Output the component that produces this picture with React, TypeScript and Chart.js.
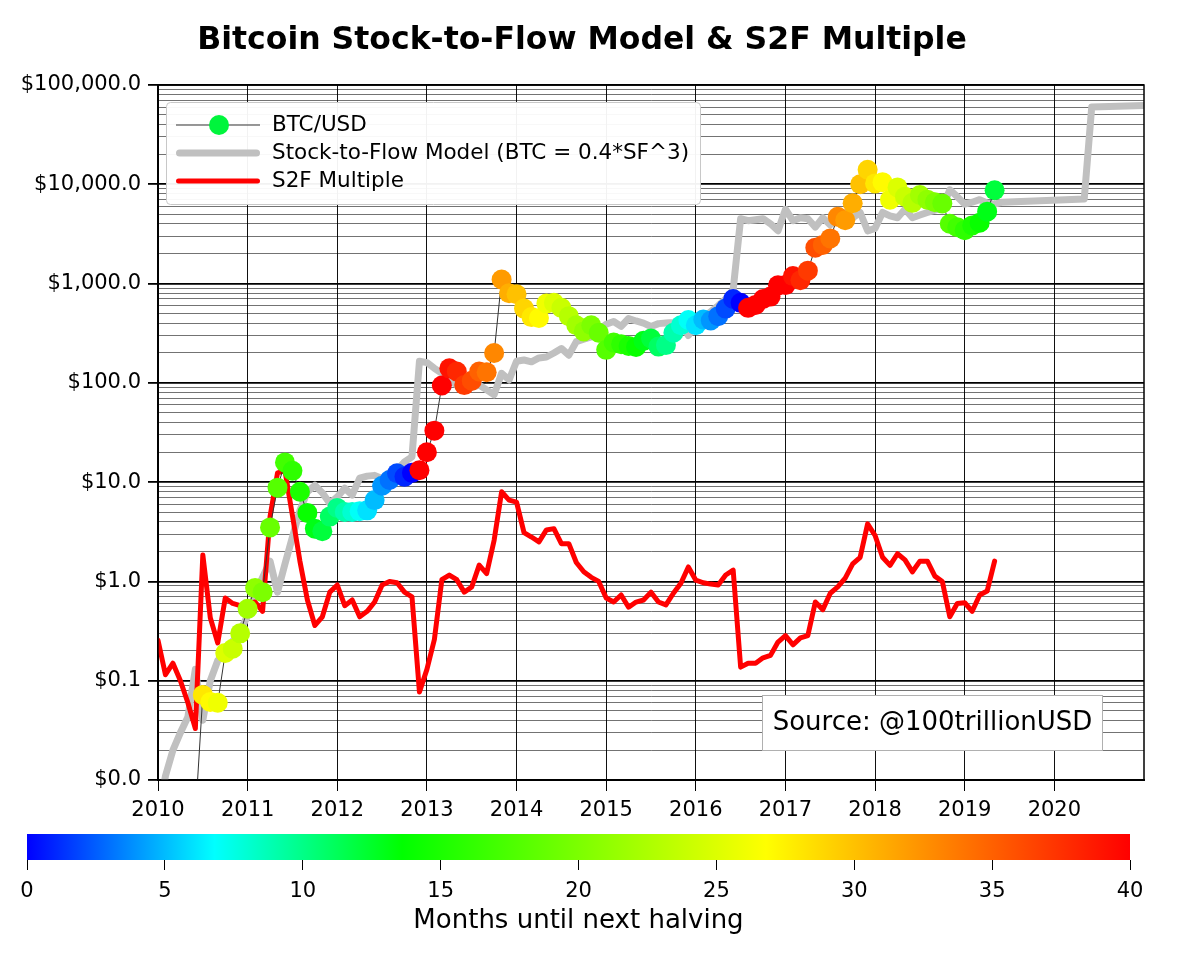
import React, { useEffect, useRef } from "react";
import { Chart, registerables } from "chart.js";

Chart.register(...registerables);

// ---------------- data ----------------
const START_YEAR = 2010; // month index 0 = Jan 2010, one value per month
const yearTicks = [2010, 2011, 2012, 2013, 2014, 2015, 2016, 2017, 2018, 2019, 2020];
const decadeTicks = [0.01, 0.1, 1, 10, 100, 1000, 10000, 100000];
const colorbarTicks = [0, 5, 10, 15, 20, 25, 30, 35, 40];
const halvingMonthIndex = [34, 78, 124]; // Nov 2012, Jul 2016, May 2020

const btcPrice = [
  0.001, 0.0013, 0.003, 0.003, 0.0026, 0.0043, 0.072, 0.061, 0.06, 0.19, 0.21, 0.3,
  0.53, 0.86, 0.78, 3.5, 8.8, 15.8, 13, 8, 4.9, 3.4, 3.2, 4.5,
  5.5, 5.0, 5.0, 5.1, 5.2, 6.6, 9.2, 10.5, 12.3, 11.3, 12.4, 13.2,
  20, 33, 94, 140, 130, 95, 105, 130, 128, 200, 1100, 800,
  780, 560, 460, 450, 630, 640, 570, 470, 380, 330, 380, 320,
  215, 255, 245, 235, 230, 265, 280, 232, 240, 320, 380, 430,
  380, 435, 425, 470, 560, 700, 640, 570, 610, 700, 740, 960,
  965, 1190, 1080, 1350, 2300, 2450, 2850, 4700, 4350, 6450, 10000, 14000,
  10200, 10500, 7000, 9300, 7500, 6500, 7800, 7000, 6600, 6400, 4000, 3700,
  3450, 3850, 4100, 5300, 8700,
];

const s2fModel = [
  0.004, 0.011, 0.02, 0.03, 0.043, 0.13, 0.04, 0.1, 0.16, 0.18, 0.25, 0.32,
  0.45, 0.75, 1.1, 1.6, 0.78, 1.5, 2.8, 5.2, 8, 9.3, 7.8, 6.1,
  7.1, 8.7, 7.4, 11, 11.5, 11.7, 10.9, 12.5, 13.2, 16, 18, 165,
  160, 140, 125, 106, 95, 88, 90, 95, 85, 76, 125, 107,
  165, 170, 163, 178, 182, 200, 222, 190, 260, 275, 290, 340,
  390, 415, 370, 445, 420, 400, 370, 395, 400, 405, 415, 300,
  385, 450, 520, 600, 700, 870, 4500, 4300, 4400, 4500, 4000, 3400,
  5600, 4300, 4600, 4500, 3700, 4600, 3900, 4500, 5200, 4600, 5200, 3400,
  3600, 5200, 4800, 4600, 5600, 4600, 4900, 5200, 5500, 5800, 8800, 7500,
  6300, 6600, 7000, 6500, 6300, 6600, null, null, null, null, null, null,
  null, null, null, null, 7100, 60000, null, null, null, null, null, null,
  62000,
];

const s2fMultiple = [
  0.255, 0.115, 0.15, 0.1, 0.06, 0.033, 1.85, 0.43, 0.24, 0.68, 0.6, 0.57,
  0.6, 0.62, 0.5, 4.5, 12.4, 13, 4.6, 1.6, 0.65, 0.36, 0.44, 0.78,
  0.92, 0.57, 0.65, 0.44, 0.5, 0.62, 0.92, 1.0, 0.97, 0.78, 0.7, 0.077,
  0.13, 0.26, 1.04, 1.16, 1.04, 0.78, 0.88, 1.46, 1.2, 2.6, 8.0, 6.6,
  6.3, 3.1, 2.8, 2.5, 3.3, 3.4, 2.4, 2.4, 1.55, 1.25, 1.1, 1.0,
  0.68, 0.62, 0.73, 0.55, 0.62, 0.65, 0.78, 0.62, 0.58, 0.76, 0.96, 1.4,
  1.03, 0.97, 0.94, 0.92, 1.16, 1.3, 0.137, 0.15, 0.15, 0.17, 0.18, 0.245,
  0.285, 0.23, 0.27, 0.285, 0.62, 0.52, 0.76, 0.88, 1.08, 1.5, 1.75, 3.8,
  2.9, 1.75, 1.45, 1.9, 1.65, 1.25, 1.6, 1.6, 1.13, 1.0, 0.44, 0.6,
  0.61, 0.5, 0.73, 0.8, 1.6,
];

// ---------------- styling helpers ----------------
const CMAP_STOPS: { m: number; c: [number, number, number] }[] = [
  { m: 0, c: [0, 0, 255] },
  { m: 6.8, c: [0, 255, 255] },
  { m: 13.6, c: [0, 255, 0] },
  { m: 26.8, c: [255, 255, 0] },
  { m: 40, c: [255, 0, 0] },
];

function cmap(m: number): string {
  const v = Math.max(0, Math.min(40, m));
  for (let i = 0; i < CMAP_STOPS.length - 1; i++) {
    const a = CMAP_STOPS[i];
    const b = CMAP_STOPS[i + 1];
    if (v >= a.m && v <= b.m) {
      const t = (v - a.m) / (b.m - a.m);
      const c = a.c.map((x, j) => Math.round(x + (b.c[j] - x) * t));
      return `rgb(${c[0]},${c[1]},${c[2]})`;
    }
  }
  return "rgb(255,0,0)";
}

function monthsToNextHalving(i: number): number {
  for (const h of halvingMonthIndex) if (h >= i) return Math.min(40, h - i);
  return 40;
}

const toXY = (arr: (number | null)[]) =>
  arr.map((v, i) => ({ x: START_YEAR + i / 12, y: v }));

const fmtPrice = (v: number) =>
  "$" + v.toLocaleString("en-US", { minimumFractionDigits: 1, maximumFractionDigits: 1 });

const isDecade = (v: number) => {
  const l = Math.log10(v);
  return Math.abs(l - Math.round(l)) < 1e-9;
};

const FONT = "'DejaVu Sans', sans-serif";

const overlayPlugin = {
  id: "overlay",
  afterDraw(chart: any) {
    const { ctx, chartArea: a } = chart;
    ctx.save();
    // frame
    ctx.strokeStyle = "#000";
    ctx.lineWidth = 1.5;
    ctx.strokeRect(a.left, a.top, a.right - a.left, a.bottom - a.top);

    // title
    ctx.fillStyle = "#000";
    ctx.font = `bold 31.5px ${FONT}`;
    ctx.textAlign = "center";
    ctx.textBaseline = "middle";
    ctx.fillText("Bitcoin Stock-to-Flow Model & S2F Multiple", 582, 41);

    // legend
    const lx = a.left + 8.5;
    const ly = a.top + 17.5;
    ctx.beginPath();
    if (ctx.roundRect) ctx.roundRect(lx, ly, 534, 102, 4);
    else ctx.rect(lx, ly, 534, 102);
    ctx.fillStyle = "rgba(255,255,255,0.95)";
    ctx.fill();
    ctx.strokeStyle = "#c8c8c8";
    ctx.lineWidth = 1;
    ctx.stroke();

    const x0 = a.left + 18;
    const x1 = a.left + 102;
    const rows = [a.top + 40, a.top + 68, a.top + 96];
    // BTC
    ctx.strokeStyle = "#333";
    ctx.lineWidth = 1;
    ctx.beginPath();
    ctx.moveTo(x0, rows[0]);
    ctx.lineTo(x1, rows[0]);
    ctx.stroke();
    ctx.fillStyle = "rgb(0,245,60)";
    ctx.beginPath();
    ctx.arc((x0 + x1) / 2 + 1, rows[0], 10, 0, Math.PI * 2);
    ctx.fill();
    // model
    ctx.lineCap = "round";
    ctx.strokeStyle = "rgb(192,192,192)";
    ctx.lineWidth = 7;
    ctx.beginPath();
    ctx.moveTo(x0 + 3.5, rows[1]);
    ctx.lineTo(x1 - 3.5, rows[1]);
    ctx.stroke();
    // multiple
    ctx.strokeStyle = "#ff0000";
    ctx.lineWidth = 5;
    ctx.beginPath();
    ctx.moveTo(x0 + 2.5, rows[2]);
    ctx.lineTo(x1 - 2.5, rows[2]);
    ctx.stroke();

    ctx.fillStyle = "#000";
    ctx.font = `21.5px ${FONT}`;
    ctx.textAlign = "left";
    ctx.textBaseline = "middle";
    ctx.fillText("BTC/USD", a.left + 114, rows[0]);
    ctx.fillText("Stock-to-Flow Model (BTC = 0.4*SF^3)", a.left + 114, rows[1]);
    ctx.fillText("S2F Multiple", a.left + 114, rows[2]);

    // source box
    const sx = 762.5;
    const sy = 695.5;
    ctx.fillStyle = "#fff";
    ctx.fillRect(sx, sy, 340, 55);
    ctx.strokeStyle = "#b0b0b0";
    ctx.lineWidth = 1;
    ctx.strokeRect(sx, sy, 340, 55);
    ctx.fillStyle = "#000";
    ctx.font = `26px ${FONT}`;
    ctx.textAlign = "center";
    ctx.fillText("Source: @100trillionUSD", sx + 170, sy + 28);
    ctx.restore();
  },
};

const gradientPlugin = {
  id: "cbarGradient",
  beforeDatasetsDraw(chart: any) {
    const { ctx, chartArea: a, scales } = chart;
    const x = scales.x;
    const g = ctx.createLinearGradient(a.left, 0, a.right, 0);
    for (const s of CMAP_STOPS) {
      const p = (x.getPixelForValue(s.m) - a.left) / (a.right - a.left);
      g.addColorStop(Math.max(0, Math.min(1, p)), `rgb(${s.c[0]},${s.c[1]},${s.c[2]})`);
    }
    ctx.save();
    ctx.fillStyle = g;
    ctx.fillRect(a.left, a.top, a.right - a.left, a.bottom - a.top);
    ctx.restore();
  },
};

export default function App() {
  const mainRef = useRef<HTMLCanvasElement | null>(null);
  const barRef = useRef<HTMLCanvasElement | null>(null);

  useEffect(() => {
    Chart.defaults.font.family = FONT;
    Chart.defaults.color = "#000";
    const btcColors = btcPrice.map((_, i) => cmap(monthsToNextHalving(i)));

    const main = new Chart(mainRef.current as HTMLCanvasElement, {
      type: "line",
      data: {
        datasets: [
          {
            label: "BTC/USD",
            data: toXY(btcPrice) as any,
            borderColor: "#333",
            borderWidth: 1,
            pointRadius: 10,
            pointHoverRadius: 10,
            pointBackgroundColor: btcColors,
            pointBorderWidth: 0,
            pointBorderColor: "rgba(0,0,0,0)",
            tension: 0,
          },
          {
            label: "S2F Multiple",
            data: toXY(s2fMultiple) as any,
            borderColor: "#ff0000",
            borderWidth: 5,
            pointRadius: 0,
            borderJoinStyle: "round",
            borderCapStyle: "round",
            tension: 0,
          },
          {
            label: "Stock-to-Flow Model (BTC = 0.4*SF^3)",
            data: toXY(s2fModel) as any,
            borderColor: "rgb(192,192,192)",
            borderWidth: 7,
            pointRadius: 0,
            spanGaps: true,
            borderJoinStyle: "round",
            borderCapStyle: "round",
            tension: 0,
          },
        ],
      },
      options: {
        animation: false,
        responsive: false,
        maintainAspectRatio: false,
        layout: { padding: { left: 0, right: 56, top: 85, bottom: 0 } },
        plugins: { legend: { display: false }, tooltip: { enabled: false }, title: { display: false } },
        scales: {
          x: {
            type: "linear",
            min: 2010,
            max: 2021,
            afterBuildTicks: (s: any) => {
              s.ticks = yearTicks.map((v) => ({ value: v }));
            },
            afterFit: (s: any) => {
              s.height = 50;
            },
            ticks: {
              callback: (v: any) => String(v),
              font: { size: 21 },
              color: "#000",
              padding: 7,
              autoSkip: false,
              maxRotation: 0,
            },
            grid: { color: "#111", lineWidth: 1, tickLength: 11, tickColor: "#000" },
            border: { color: "#000", width: 2 },
          },
          y: {
            type: "logarithmic",
            min: 0.01,
            max: 100000,
            afterBuildTicks: (s: any) => {
              const t: any[] = [];
              decadeTicks.forEach((base, d) => {
                t.push({ value: base, major: true });
                if (d < decadeTicks.length - 1)
                  for (let m = 2; m <= 9; m++) t.push({ value: base * m, major: false });
              });
              s.ticks = t;
            },
            afterFit: (s: any) => {
              s.width = 158;
            },
            ticks: {
              callback: (v: any) => (isDecade(Number(v)) ? fmtPrice(Number(v)) : ""),
              font: { size: 21 },
              color: "#000",
              padding: 7,
              autoSkip: false,
            },
            grid: {
              color: (c: any) => (c.tick && isDecade(c.tick.value) ? "#000" : "rgba(0,0,0,0.55)"),
              lineWidth: (c: any) => (c.tick && isDecade(c.tick.value) ? 1.8 : 1),
              tickLength: 10,
              tickColor: (c: any) => (c.tick && isDecade(c.tick.value) ? "#000" : "rgba(0,0,0,0)"),
            },
            border: { color: "#000", width: 2 },
          },
        },
      } as any,
      plugins: [overlayPlugin],
    });

    const bar = new Chart(barRef.current as HTMLCanvasElement, {
      type: "line",
      data: { datasets: [] },
      options: {
        animation: false,
        responsive: false,
        maintainAspectRatio: false,
        layout: { padding: { left: 27, right: 70, top: 4, bottom: 0 } },
        plugins: { legend: { display: false }, tooltip: { enabled: false } },
        scales: {
          x: {
            type: "linear",
            min: 0,
            max: 40,
            afterBuildTicks: (s: any) => {
              s.ticks = colorbarTicks.map((v) => ({ value: v }));
            },
            afterFit: (s: any) => {
              s.height = 99;
            },
            ticks: { callback: (v: any) => String(v), font: { size: 21 }, color: "#000", padding: 9, autoSkip: false, maxRotation: 0 },
            grid: { drawOnChartArea: false, tickLength: 10, tickColor: "#000", lineWidth: 1 },
            border: { display: false },
            title: {
              display: true,
              text: "Months until next halving",
              font: { size: 26 },
              color: "#000",
              padding: { top: 0, bottom: 22 },
            },
          },
          y: { display: false, min: 0, max: 1 },
        },
      } as any,
      plugins: [gradientPlugin],
    });

    return () => {
      main.destroy();
      bar.destroy();
    };
  }, []);

  return (
    <div style={{ position: "absolute", left: 0, top: 0, width: 1200, height: 959, background: "#fff" }}>
      <canvas ref={mainRef} width={1200} height={830} style={{ position: "absolute", left: 0, top: 0 }} />
      <canvas ref={barRef} width={1200} height={129} style={{ position: "absolute", left: 0, top: 830 }} />
    </div>
  );
}
